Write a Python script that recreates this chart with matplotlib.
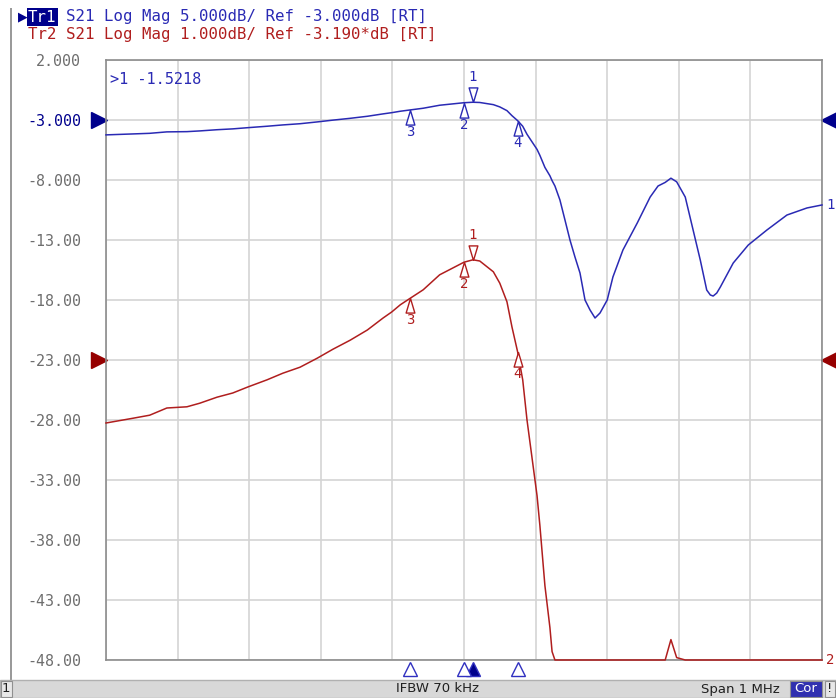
import numpy as np
import matplotlib.pyplot as plt
from matplotlib.patches import Rectangle

# frequency offset from centre (kHz), span 1 MHz
freq_khz = [-500, -462, -439, -415, -387, -369, -345, -323, -302, -275,
            -253, -229, -205, -183, -159, -135, -113, -101, -89, -75,
            -57, -34, 0, 12.5, 22, 41, 50, 60, 67, 75,
            82, 88, 96, 102, 106, 113, 120, 123, 127, 134,
            141, 148, 155, 162, 169, 176, 183, 190, 200, 208,
            222, 242, 260, 271, 281, 289, 297, 309, 320, 330,
            339, 344, 348, 353, 358, 376, 397, 423, 451, 479,
            500]
# S21 magnitude (dB), same measurement shown by both traces
s21_db = [-4.24, -4.16, -4.11, -3.99, -3.97, -3.91, -3.81, -3.74, -3.64, -3.52,
          -3.41, -3.31, -3.16, -3.01, -2.86, -2.69, -2.49, -2.39, -2.27, -2.16,
          -2.02, -1.77, -1.56, -1.52, -1.54, -1.72, -1.91, -2.22, -2.64, -3.06,
          -3.52, -4.19, -4.91, -5.45, -5.95, -6.95, -7.65, -8.05, -8.5, -9.67,
          -11.33, -13.0, -14.42, -15.75, -18.0, -18.83, -19.5, -19.08, -18.0, -16.08,
          -13.83, -11.58, -9.42, -8.5, -8.2, -7.85, -8.15, -9.42, -12.17, -14.67,
          -17.17, -17.58, -17.67, -17.42, -16.92, -14.92, -13.42, -12.17, -10.92, -10.33,
          -10.08]

# trace settings (scale dB/div, reference level, reference grid position)
tr1_scale, tr1_ref = 5.0, -3.0
tr2_scale, tr2_ref = 1.0, -3.19
tr2_ref_line = -23.0

marker_freqs = [12.5, 0, -75, 75]
marker_names = ['1', '2', '3', '4']
y_ticks = np.arange(2, -49, -5)

blue = '#2a2ab4'
red = '#b01e1e'
navy = '#00008c'
dred = '#960000'
gray_txt = '#6e6e6e'
mono = 'DejaVu Sans Mono'

f = np.array(freq_khz)
s = np.array(s21_db)
tr1 = tr1_ref + (s - tr1_ref) / tr1_scale * 5.0
tr2 = tr2_ref_line + (s - tr2_ref) / tr2_scale * 5.0
tr1 = np.clip(tr1, -48, 2)
tr2 = np.clip(tr2, -48, 2)

fig = plt.figure(figsize=(8.36, 6.98), dpi=100)
W, H = 836, 698
ax = fig.add_axes([106 / W, (H - 660) / H, 716 / W, 600 / H])
ax.set_xlim(-500, 500)
ax.set_ylim(-48, 2)
ax.set_xticks(np.arange(-500, 501, 100))
ax.set_yticks(y_ticks)
ax.grid(True, color='#d4d4d4', lw=1.2, zorder=0)
ax.tick_params(length=0, labelbottom=False)
labels = [('%.3f' % v) if abs(v) < 10 else ('%.2f' % v) for v in y_ticks]
ax.set_yticklabels(labels, family=mono, fontsize=10.8, color=gray_txt)
ax.tick_params(axis='y', pad=18)
for lab, v in zip(ax.get_yticklabels(), y_ticks):
    if v == -3:
        lab.set_color(navy)
for sp in ax.spines.values():
    sp.set_color('#8c8c8c')
    sp.set_linewidth(1.2)

ax.plot(f, tr1, color=blue, lw=1.1, clip_on=False, zorder=3)
ax.plot(f, tr2, color=red, lw=1.1, clip_on=False, zorder=3)

# markers on the traces
up_tri = [(0, 0), (-0.3, -1), (0.3, -1), (0, 0)]
down_tri = [(0, 0), (-0.3, 1), (0.3, 1), (0, 0)]
for tr, col in [(tr1, blue), (tr2, red)]:
    for mf, name in zip(marker_freqs, marker_names):
        my = np.interp(mf, f, tr)
        if name == '1':
            ax.plot(mf, my, marker=down_tri, ms=21, mfc='white', mec=col, mew=1, zorder=4)
            ax.annotate(name, (mf, my), xytext=(0, 18), textcoords='offset points',
                        ha='center', va='center', color=col, fontsize=10, family=mono)
        else:
            ax.plot(mf, my, marker=up_tri, ms=21, mfc='white', mec=col, mew=1, zorder=4)
            ax.annotate(name, (mf, my), xytext=(0, -16), textcoords='offset points',
                        ha='center', va='center', color=col, fontsize=10, family=mono)

# stimulus markers below the grid
bt = ax.get_xaxis_transform()
for mf, name in zip(marker_freqs, marker_names):
    ax.plot(mf, -0.015, marker='^', ms=10, mfc=navy if name == '1' else 'white',
            mec='#3030c0', mew=1, transform=bt, clip_on=False, zorder=5)

# reference level arrows
yt = ax.get_yaxis_transform()
for lvl, col in [(tr1_ref, navy), (tr2_ref_line, dred)]:
    ax.plot(-0.01, lvl, marker='>', ms=11, color=col, transform=yt, clip_on=False)
    ax.plot(1.01, lvl, marker='<', ms=11, color=col, transform=yt, clip_on=False)

# trace end labels
ax.annotate('1', (500, tr1[-1]), xytext=(3, 0), textcoords='offset points',
            ha='left', va='center', color=blue, fontsize=10, family=mono)
ax.annotate('2', (500, tr2[-1]), xytext=(3, 0), textcoords='offset points',
            ha='left', va='center', color=red, fontsize=10, family=mono)

# marker readout
ax.text(0.006, 0.98, '>1 -1.5218', transform=ax.transAxes, ha='left', va='top',
        color=blue, fontsize=11, family=mono)

# header
fig.text(18 / W, 1 - 17 / H, '\u25B6', color=navy, fontsize=9, va='center', ha='left')
fig.text(28 / W, 1 - 17 / H, 'Tr1', color='white', family=mono, fontsize=11.3,
         va='center', ha='left', zorder=5,
         bbox=dict(facecolor=navy, edgecolor='none', pad=0.8))
fig.text(66 / W, 1 - 17 / H, 'S21 Log Mag 5.000dB/ Ref -3.000dB [RT]',
         color=blue, family=mono, fontsize=11.3, va='center', ha='left')
fig.text(28 / W, 1 - 35 / H, 'Tr2 S21 Log Mag 1.000dB/ Ref -3.190*dB [RT]',
         color=red, family=mono, fontsize=11.3, va='center', ha='left')

# left frame line
fig.add_artist(Rectangle((10 / W, 18 / H), 2 / W, 1 - 26 / H, transform=fig.transFigure,
                         facecolor='#9a9a9a', edgecolor='none'))

# status bar
fig.add_artist(Rectangle((0, 0), 1, 18 / H, transform=fig.transFigure,
                         facecolor='#d8d8d8', edgecolor='#b0b0b0', lw=1))
fig.add_artist(Rectangle((1 / W, 1 / H), 11 / W, 16 / H, transform=fig.transFigure,
                         facecolor='#e8e8e8', edgecolor='#909090', lw=0.8))
fig.text(6 / W, 9 / H, '1', fontsize=9.5, color='#202020', ha='center', va='center')
fig.text(437 / W, 9 / H, 'IFBW 70 kHz', fontsize=9.5, color='#202020', ha='center', va='center')
fig.text(740 / W, 9 / H, 'Span 1 MHz', fontsize=9.5, color='#202020', ha='center', va='center')
fig.add_artist(Rectangle((790 / W, 1 / H), 32 / W, 16 / H, transform=fig.transFigure,
                         facecolor='#3030b0', edgecolor='#909090', lw=0.8))
fig.text(806 / W, 9 / H, 'Cor', fontsize=9.5, color='white', ha='center', va='center')
fig.add_artist(Rectangle((825 / W, 1 / H), 10 / W, 16 / H, transform=fig.transFigure,
                         facecolor='#e8e8e8', edgecolor='#909090', lw=0.8))
fig.text(830 / W, 9 / H, '!', fontsize=9.5, color='#202020', ha='center', va='center')

fig.savefig('out.png', dpi=100)
